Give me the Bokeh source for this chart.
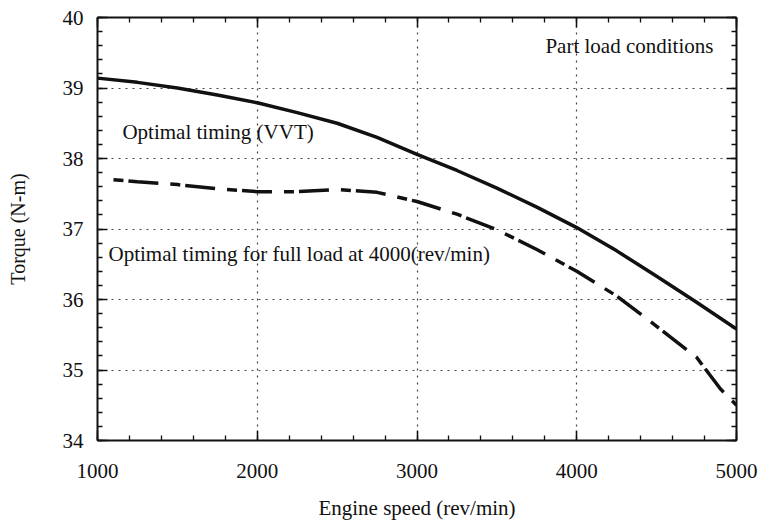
from bokeh.plotting import figure
from bokeh.models import LinearAxis, SingleIntervalTicker, ColumnDataSource, CustomJSTickFormatter
from bokeh.core.properties import value
from bokeh.embed import file_html
from bokeh.resources import INLINE

# Engine speed (rev/min) and torque (N-m) for each valve timing strategy
speed_vvt = [1000, 1250, 1500, 1750, 2000, 2250, 2500, 2750, 3000,
             3250, 3500, 3750, 4000, 4250, 4500, 4750, 5000]
torque_vvt = [39.14, 39.08, 39.00, 38.90, 38.79, 38.65, 38.50, 38.30, 38.06,
              37.83, 37.58, 37.31, 37.02, 36.69, 36.33, 35.96, 35.58]

speed_fixed = [1100, 1250, 1500, 1750, 2000, 2250, 2500, 2750, 3000,
               3250, 3500, 3750, 4000, 4250, 4500, 4750, 4900, 5000]
torque_fixed = [37.70, 37.67, 37.63, 37.57, 37.53, 37.53, 37.56, 37.52, 37.39,
                37.21, 36.99, 36.71, 36.40, 36.05, 35.62, 35.18, 34.73, 34.50]

x_ticks = [1000, 2000, 3000, 4000, 5000]
y_ticks = [34, 35, 36, 37, 38, 39, 40]

# Annotation texts with their anchor (left, baseline) in data units
note_text = ["Part load conditions", "Optimal timing (VVT)",
             "Optimal timing for full load at 4000(rev/min)"]
note_x = [3804, 1156, 1069]
note_y = [39.60, 38.37, 36.65]

FONT = "Liberation Serif"
INK = "#111111"

p = figure(width=758, height=522, output_backend="svg", toolbar_location=None,
           x_range=(x_ticks[0], x_ticks[-1]), y_range=(y_ticks[0], y_ticks[-1]),
           min_border_left=97, min_border_right=22,
           min_border_top=17, min_border_bottom=80,
           x_axis_label="Engine speed (rev/min)", y_axis_label="Torque (N-m)")
p.outline_line_color = None
p.background_fill_color = "white"
p.border_fill_color = "white"

def style_axis(ax, major, labels=True):
    ax.ticker = SingleIntervalTicker(interval=major, num_minor_ticks=5)
    ax.axis_line_color = INK
    ax.axis_line_width = 2
    ax.major_tick_line_color = INK
    ax.minor_tick_line_color = INK
    ax.major_tick_line_width = 1.5
    ax.minor_tick_line_width = 1.3
    ax.major_tick_in = 10
    ax.major_tick_out = 0
    ax.minor_tick_in = 5
    ax.minor_tick_out = 0
    if labels:
        ax.major_label_text_font = FONT
        ax.major_label_text_font_size = "21px"
        ax.major_label_text_color = INK
        ax.axis_label_text_font = FONT
        ax.axis_label_text_font_size = "21px"
        ax.axis_label_text_font_style = "normal"
        ax.axis_label_text_color = INK
    else:
        # only the frame line and inward ticks on the opposite sides
        ax.formatter = CustomJSTickFormatter(code="return ''")
        ax.major_label_standoff = 0
        ax.axis_label = None

xa = p.xaxis[0]
style_axis(xa, 1000)
xa.major_label_standoff = 23
xa.axis_label_standoff = 15

ya = p.yaxis[0]
style_axis(ya, 1)
ya.major_label_standoff = 14
ya.axis_label_standoff = 31
ya.axis_label_text_font_size = "20px"

top = LinearAxis()
style_axis(top, 1000, labels=False)
p.add_layout(top, "above")
right = LinearAxis()
style_axis(right, 1, labels=False)
p.add_layout(right, "right")

for g, iv in ((p.xgrid[0], 1000), (p.ygrid[0], 1)):
    g.ticker = SingleIntervalTicker(interval=iv)
    g.grid_line_color = "#444444"
    g.grid_line_width = 1.2
    g.grid_line_dash = "2 5"

p.line(speed_vvt, torque_vvt, line_color=INK, line_width=3.5)
p.line(speed_fixed, torque_fixed, line_color=INK, line_width=3.5,
       line_dash="10 5 30 12")

notes = ColumnDataSource(dict(x=note_x, y=note_y, t=note_text))
p.text(x="x", y="y", text="t", source=notes, text_font=value(FONT),
       text_font_size="21px", text_color=INK, text_align="left",
       text_baseline="alphabetic")

open("out.html", "w").write(file_html(p, INLINE))
